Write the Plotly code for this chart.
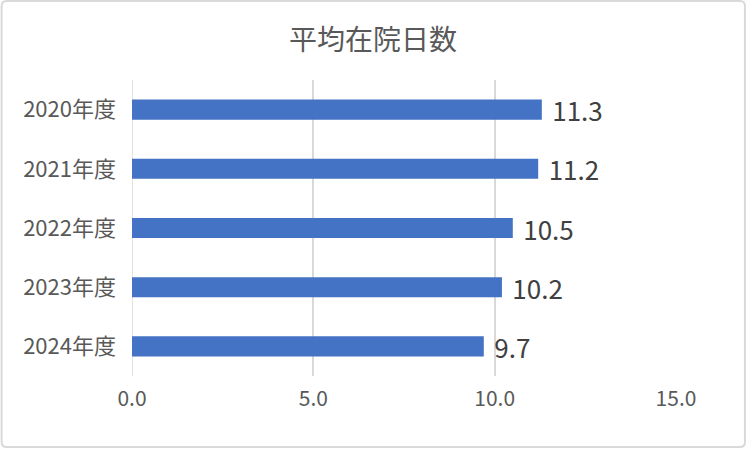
import plotly.graph_objects as go

categories = ["2020年度", "2021年度", "2022年度", "2023年度", "2024年度"]
values = [11.3, 11.2, 10.5, 10.2, 9.7]
x_ticks = [0, 5, 10, 15]
x_tick_labels = ["0.0", "5.0", "10.0", "15.0"]
title_text = "平均在院日数"

W, H = 746, 449
L, R, T, B = 131.5, 70, 80, 73
pw, ph = W - L - R, H - T - B

def px(x):
    return (x - L) / pw

def py(y):
    return (H - B - y) / ph

FONT = "Noto Sans CJK JP"

fig = go.Figure(go.Bar(
    x=values, y=categories, orientation="h",
    marker=dict(color="#4472C4", line=dict(width=0)),
    texttemplate="\u00a0\u200a%{x:.1f}",
    textposition="outside",
    constraintext="none",
    textfont=dict(size=26, color="#404040", family=FONT),
    cliponaxis=False,
))

# rounded border
x0, x1, y0, y1, r = 1, 745, 1, 447, 5
path = (f"M {px(x0+r)} {py(y0)} L {px(x1-r)} {py(y0)} Q {px(x1)} {py(y0)} {px(x1)} {py(y0+r)} "
        f"L {px(x1)} {py(y1-r)} Q {px(x1)} {py(y1)} {px(x1-r)} {py(y1)} "
        f"L {px(x0+r)} {py(y1)} Q {px(x0)} {py(y1)} {px(x0)} {py(y1-r)} "
        f"L {px(x0)} {py(y0+r)} Q {px(x0)} {py(y0)} {px(x0+r)} {py(y0)} Z")

fig.update_layout(
    width=W, height=H,
    margin=dict(l=L, r=R, t=T, b=B, pad=0),
    paper_bgcolor="white", plot_bgcolor="white",
    bargap=0.66,
    showlegend=False,
    title=dict(text=title_text, x=0.5, xref="container", xanchor="center",
               y=1 - 40 / H, yref="container", yanchor="middle",
               font=dict(size=28, color="#595959", family=FONT)),
    xaxis=dict(range=[0, 15], tickvals=x_ticks, ticktext=x_tick_labels,
               showgrid=True, gridcolor="#D9D9D9", gridwidth=1.5,
               zeroline=False, showline=False, ticks="",
               tickfont=dict(size=21, color="#595959", family=FONT), ticklabelstandoff=8),
    yaxis=dict(categoryorder="array", categoryarray=categories[::-1],
               showgrid=False, zeroline=False, showline=False, ticks="",
               tickfont=dict(size=22, color="#595959", family=FONT), ticklabelstandoff=15),
    shapes=[
        dict(type="line", xref="x", yref="paper", x0=0, x1=0, y0=0, y1=1,
             line=dict(color="#D9D9D9", width=1.5), layer="below"),
        dict(type="path", xref="paper", yref="paper", path=path,
             line=dict(color="#D9D9D9", width=2), fillcolor="rgba(0,0,0,0)", layer="above"),
    ],
    font=dict(family=FONT),
)

fig.write_html("out.html", config={"displayModeBar": False},
               post_script="document.body.style.margin='0';document.body.style.overflow='hidden';")
